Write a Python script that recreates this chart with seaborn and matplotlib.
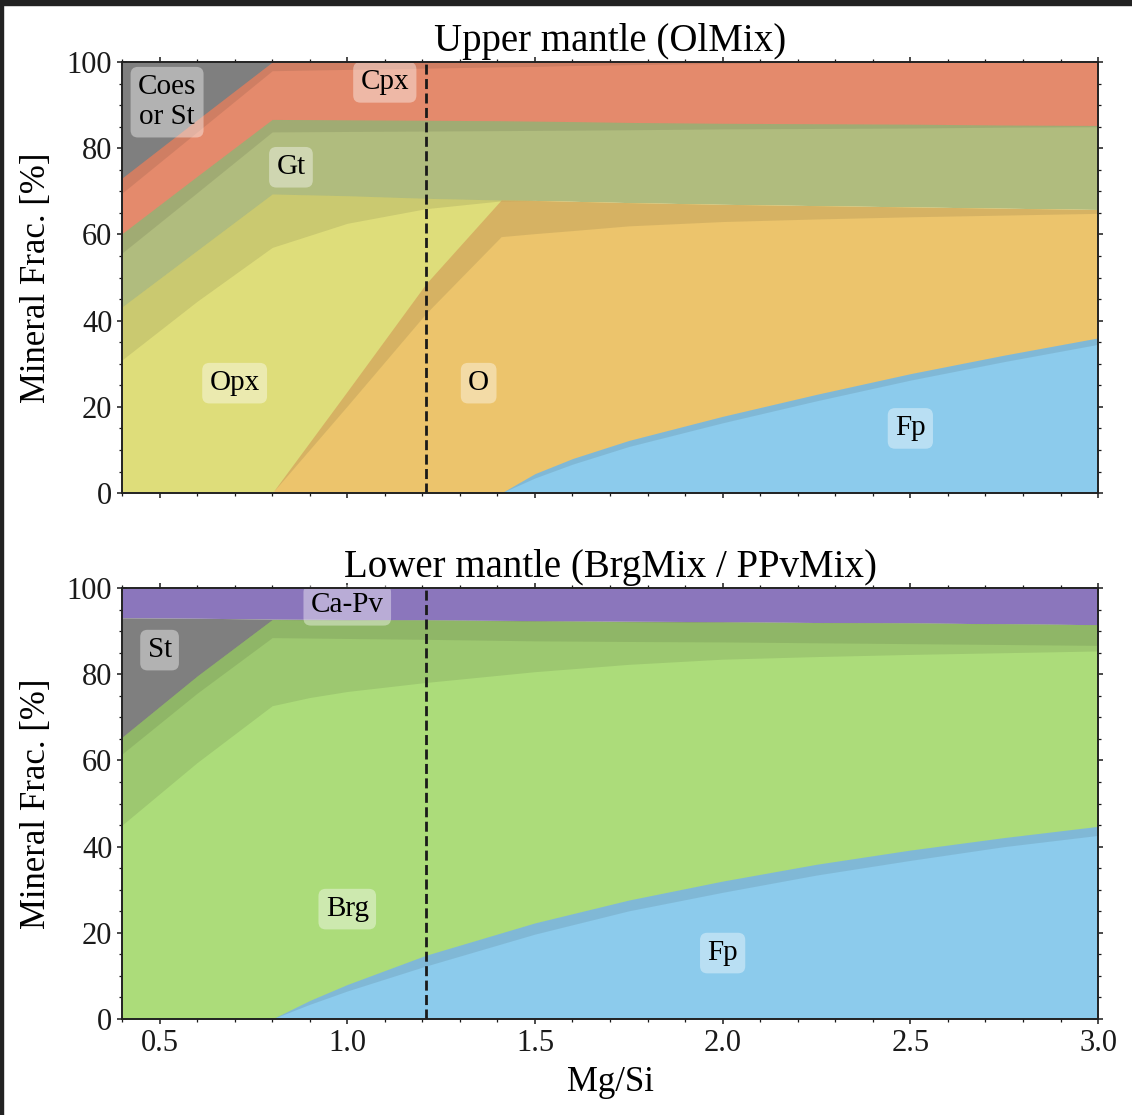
import matplotlib
matplotlib.use("Agg")
import matplotlib.pyplot as plt
from matplotlib.patches import Rectangle
from matplotlib.ticker import MultipleLocator
import seaborn as sns

# ---- upper mantle (OlMix): cumulative phase boundaries, min / max ----
x_um = [0.4, 0.6, 0.8, 1.0, 1.21, 1.41, 1.5, 1.6, 1.75, 2.0, 2.25, 2.5, 2.75, 3.0]
um_fp_lo = [0, 0, 0, 0, 0, 0, 3.5, 6.7, 10.8, 16.3, 21.4, 26.2, 30.5, 34.5]
um_fp_hi = [0, 0, 0, 0, 0, 0, 4.5, 8.0, 12.2, 17.8, 22.9, 27.7, 32.0, 36.0]
um_ol_lo = [0, 0, 0, 20.2, 41.7, 59.5, 60.2, 60.9, 62.0, 63.0, 63.6, 64.1, 64.5, 64.9]
um_ol_hi = [0, 0, 0, 23.6, 48.6, 68.0, 67.9, 67.7, 67.4, 67.0, 66.7, 66.4, 66.1, 65.8]
um_opx_lo = [30.9, 44.5, 57.0, 62.6, 66.0, 67.8, 67.9, 67.7, 67.4, 67.0, 66.7, 66.4, 66.1, 65.8]
um_opx_hi = [43.2, 56.3, 69.4, 69.0, 68.4, 68.0, 67.9, 67.7, 67.4, 67.0, 66.7, 66.4, 66.1, 65.8]
um_gt_lo = [55.7, 69.7, 83.8, 83.9, 84.0, 84.1, 84.15, 84.2, 84.3, 84.5, 84.6, 84.7, 84.9, 85.0]
um_gt_hi = [60.2, 73.5, 86.7, 86.6, 86.5, 86.4, 86.3, 86.2, 86.0, 85.8, 85.7, 85.6, 85.4, 85.3]
um_cpx_lo = [69.6, 83.8, 98.0, 98.3, 98.6, 98.9, 99.0, 99.2, 99.4, 99.7, 100, 100, 100, 100]
um_cpx_hi = [73.1, 86.6, 100, 100, 100, 100, 100, 100, 100, 100, 100, 100, 100, 100]

# ---- lower mantle (BrgMix / PPvMix) ----
x_lm = [0.4, 0.6, 0.8, 0.9, 1.0, 1.21, 1.5, 1.75, 2.0, 2.25, 2.5, 2.75, 3.0]
lm_fp_lo = [0, 0, 0, 3.4, 6.5, 12.3, 19.7, 25.1, 29.4, 33.4, 36.8, 40.0, 42.6]
lm_fp_hi = [0, 0, 0, 4.3, 8.0, 14.8, 22.3, 27.6, 32.0, 35.9, 39.2, 42.1, 44.7]
lm_brg_lo = [45.0, 59.5, 72.7, 74.6, 76.0, 78.1, 80.6, 82.3, 83.5, 84.1, 84.6, 85.0, 85.4]
lm_brg_mid = [61.5, 75.6, 88.5, 88.4, 88.3, 88.1, 87.75, 87.6, 87.5, 87.3, 87.1, 86.9, 86.7]
lm_brg_hi = [65.4, 79.6, 92.7, 92.65, 92.6, 92.6, 92.35, 92.2, 92.1, 92.0, 91.9, 91.7, 91.5]
lm_st_hi = [93.1, 93.0, 92.8, 92.75, 92.7, 92.6, 92.45, 92.3, 92.2, 92.0, 91.9, 91.7, 91.5]

mgsi_marker = 1.21

um_labels = [("Coes\nor St", 0.52, 90.7), ("Cpx", 1.10, 95.3), ("Gt", 0.85, 75.6),
             ("Opx", 0.70, 25.5), ("O", 1.35, 25.5), ("Fp", 2.50, 15.0)]
lm_labels = [("Ca-Pv", 1.00, 96.0), ("St", 0.50, 85.6), ("Brg", 1.00, 25.5), ("Fp", 2.00, 15.3)]

c_grey = "#7f7f7f"
c_cpx = "#e48a6c"
c_gt = "#b0bc7e"
c_opx = "#dedd7a"
c_ol = "#ecc46c"
c_fp = "#8ccbec"
c_capv = "#8b76bc"
c_brg = "#acdc7a"

sns.set_theme(style="ticks")
plt.rcParams["font.family"] = ["Liberation Serif", "DejaVu Serif"]
plt.rcParams["text.color"] = "black"
plt.rcParams["axes.labelcolor"] = "black"
plt.rcParams["xtick.color"] = "black"
plt.rcParams["ytick.color"] = "black"

fig = plt.figure(figsize=(11.32, 11.15), dpi=100)
fig.patch.set_facecolor("white")
ax1 = fig.add_axes([0.1078, 0.5578, 0.8622, 0.3865])
ax2 = fig.add_axes([0.1078, 0.0861, 0.8622, 0.3865])

# screenshot frame
fig.patches.append(Rectangle((0, 1 - 5 / 1115), 1, 5 / 1115, transform=fig.transFigure,
                             color="#222222", zorder=-1))
fig.patches.append(Rectangle((0, 0), 3 / 1132, 1, transform=fig.transFigure,
                             color="#222222", zorder=-1))


def band(ax, x, lo, hi, color):
    ax.fill_between(x, lo, hi, color=color, lw=0)


def shade(ax, x, lo, hi, a=0.1):
    ax.fill_between(x, lo, hi, color="k", alpha=a, lw=0)


# upper: draw top phase first so lower phase fills the uncertainty band
zero_um = [0] * len(x_um)
band(ax1, x_um, um_cpx_lo, [100] * len(x_um), c_grey)
band(ax1, x_um, um_gt_lo, um_cpx_hi, c_cpx)
band(ax1, x_um, um_opx_lo, um_gt_hi, c_gt)
band(ax1, x_um, um_ol_lo, um_opx_hi, c_opx)
band(ax1, x_um, um_fp_lo, um_ol_hi, c_ol)
band(ax1, x_um, zero_um, um_fp_hi, c_fp)
for lo, hi in [(um_fp_lo, um_fp_hi), (um_ol_lo, um_ol_hi), (um_opx_lo, um_opx_hi),
               (um_gt_lo, um_gt_hi), (um_cpx_lo, um_cpx_hi)]:
    shade(ax1, x_um, lo, hi)

# lower
zero_lm = [0] * len(x_lm)
band(ax2, x_lm, lm_st_hi, [100] * len(x_lm), c_capv)
band(ax2, x_lm, lm_brg_lo, lm_st_hi, c_grey)
band(ax2, x_lm, lm_fp_lo, lm_brg_hi, c_brg)
band(ax2, x_lm, zero_lm, lm_fp_hi, c_fp)
shade(ax2, x_lm, lm_fp_lo, lm_fp_hi)
shade(ax2, x_lm, lm_brg_lo, lm_brg_hi)
shade(ax2, x_lm, lm_brg_mid, lm_brg_hi)

for ax, labels, title in [(ax1, um_labels, "Upper mantle (OlMix)"),
                          (ax2, lm_labels, "Lower mantle (BrgMix / PPvMix)")]:
    ax.axvline(mgsi_marker, color="k", lw=2, ls=(0, (3.6, 1.6)), zorder=5)
    for txt, lx, ly in labels:
        ax.text(lx, ly, txt, ha="center", va="center", fontsize=21, zorder=6,
                bbox=dict(boxstyle="round,pad=0.25", fc="white", ec="none", alpha=0.4))
    ax.set_xlim(0.4, 3.0)
    ax.set_ylim(0, 100)
    ax.set_title(title, fontsize=28, pad=8)
    ax.set_ylabel("Mineral Frac. [%]", fontsize=25, labelpad=10)
    ax.xaxis.set_major_locator(MultipleLocator(0.5))
    ax.xaxis.set_minor_locator(MultipleLocator(0.1))
    ax.yaxis.set_major_locator(MultipleLocator(20))
    ax.yaxis.set_minor_locator(MultipleLocator(5))
    ax.tick_params(which="both", direction="inout", top=True, right=True, colors="k",
                   labelsize=22)
    ax.tick_params(which="major", length=7, width=1.1)
    ax.tick_params(which="minor", length=4, width=0.9)
    for s in ax.spines.values():
        s.set_color("#222222")
        s.set_linewidth(1.4)
        s.set_zorder(7)

ax1.set_xticklabels([])
ax2.set_xlabel("Mg/Si", fontsize=25, labelpad=6)

fig.savefig("out.png", dpi=100)
